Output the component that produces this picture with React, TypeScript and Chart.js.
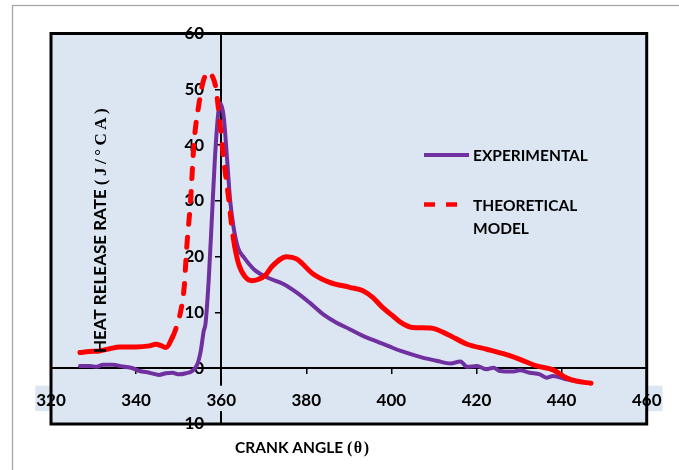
import React, { useEffect, useRef } from "react";
import { Chart, registerables } from "chart.js";

Chart.register(...registerables);

// ---- data ----
const expAngles = [
  326.8, 329.1, 330.7, 332.2, 334.5, 336.9, 339.2, 340.8, 343.1, 345.4, 347.0, 348.5, 350.1, 351.7,
  353.2, 354.4, 355.2, 355.9, 356.3, 357.1, 357.9, 358.5, 359.3, 359.8, 360.6, 361.4, 362.1, 362.9,
  364.0, 365.3, 367.6, 370.7, 374.6, 377.7, 380.7, 383.9, 387.0, 390.2, 393.3, 397.2, 399.5, 402.2,
  406.9, 410.8, 413.9, 416.2, 417.8, 420.1, 422.4, 424.0, 425.5, 428.7, 430.2, 432.5, 434.9, 436.4,
  438.0, 441.1, 442.4,
];
const expRates = [
  0.4, 0.4, 0.25, 0.6, 0.6, 0.3, 0.0, -0.5, -0.8, -1.2, -0.9, -0.8, -1.1, -0.9,
  -0.5, 0.7, 3.1, 6.7, 7.9, 16.3, 28.3, 37.3, 45.7, 47.5, 45.0, 37.3, 30.1, 25.3,
  21.5, 19.9, 17.8, 16.3, 15.1, 13.6, 11.8, 9.7, 8.2, 7.0, 5.8, 4.6, 3.9, 3.1,
  2.0, 1.3, 0.85, 1.2, 0.25, 0.4, -0.2, 0.1, -0.5, -0.6, -0.35, -0.8, -1.1, -1.7,
  -1.4, -2.0, -2.2,
];
const theoAngles = [
  326.8, 329.0, 331.4, 333.8, 336.1, 340.0, 343.1, 344.7, 346.0, 347.0, 348.5, 349.3, 350.5, 351.3,
  351.9, 352.8, 353.6, 354.8, 355.8, 357.1, 358.0, 358.7, 359.8, 360.6, 361.8, 362.5, 363.2, 364.1,
  365.7, 367.2, 368.6, 370.3, 372.0, 375.4, 377.7, 381.6, 385.5, 390.2, 393.3, 395.6, 397.9, 400.3,
  402.2, 404.9, 409.2, 413.1, 417.8, 422.4, 426.3, 430.2, 434.1, 438.0, 441.1, 443.4, 446.9,
];
const theoRates = [
  2.8, 3.0, 3.1, 3.5, 3.8, 3.8, 4.0, 4.3, 4.0, 3.7, 5.5, 7.0, 10.3, 14.5,
  21.7, 30.0, 40.3, 47.5, 51.5, 53.1, 52.2, 50.4, 43.3, 37.3, 30.1, 25.3, 21.7, 18.7,
  16.3, 15.7, 15.9, 16.6, 18.3, 20.0, 19.6, 16.9, 15.4, 14.5, 13.9, 12.7, 10.9, 9.4,
  8.2, 7.3, 7.2, 6.1, 4.3, 3.4, 2.6, 1.6, 0.4, -0.3, -1.7, -2.3, -2.7,
];
const xTicks = [320, 340, 360, 380, 400, 420, 440, 460];
const yTicks = [-10, 0, 10, 20, 30, 40, 50, 60];
const seriesNames = ["EXPERIMENTAL", "THEORETICAL MODEL"];
const legendRows = [["EXPERIMENTAL"], ["THEORETICAL", "MODEL"]];
const xTitleParts = ["CRANK ANGLE ", "(θ)"];
const yTitleParts = ["HEAT RELEASE RATE ", "(J/°CA)"];

// ---- styles ----
const PLOT_BG = "#dce6f2";
const PURPLE = "#7030a0";
const RED = "#ff0000";
const SANS = "Lato, 'Open Sans', sans-serif";
const SERIF = "'Liberation Serif', 'DejaVu Serif', serif";
const DASH_FROM = 348.5;
const DASH_TO = 363.5;

const decor = {
  id: "decor",
  beforeDraw(chart: any) {
    const { ctx, chartArea: a, width, height } = chart;
    ctx.save();
    ctx.fillStyle = "#ffffff";
    ctx.fillRect(0, 0, width, height);
    ctx.strokeStyle = "#a6a6a6";
    ctx.lineWidth = 1.3;
    ctx.strokeRect(12.5, 5.5, width + 20, height + 20);
    ctx.fillStyle = PLOT_BG;
    ctx.fillRect(a.left, a.top, a.right - a.left, a.bottom - a.top);
    ctx.restore();
  },
  afterDraw(chart: any) {
    const { ctx, chartArea: a } = chart;
    ctx.save();
    // plot border
    ctx.strokeStyle = "#000";
    ctx.lineWidth = 3;
    ctx.strokeRect(a.left, a.top, a.right - a.left, a.bottom - a.top);

    // legend
    ctx.lineCap = "butt";
    ctx.strokeStyle = PURPLE;
    ctx.lineWidth = 4;
    ctx.beginPath();
    ctx.moveTo(424, 155);
    ctx.lineTo(469, 155);
    ctx.stroke();
    ctx.strokeStyle = RED;
    ctx.lineWidth = 4.5;
    ctx.setLineDash([11, 11]);
    ctx.beginPath();
    ctx.moveTo(424, 204.5);
    ctx.lineTo(459, 204.5);
    ctx.stroke();
    ctx.setLineDash([]);
    ctx.fillStyle = "#000";
    ctx.font = `bold 15.5px ${SANS}`;
    ctx.textBaseline = "alphabetic";
    ctx.textAlign = "left";
    ctx.fillText(legendRows[0][0], 473, 160.7);
    ctx.fillText(legendRows[1][0], 473, 211);
    ctx.fillText(legendRows[1][1], 473, 234);

    // x title
    ctx.font = `bold 15.5px ${SANS}`;
    ctx.fillText(xTitleParts[0], 235, 452.5);
    const w1 = ctx.measureText(xTitleParts[0]).width;
    ctx.font = `bold 16px ${SERIF}`;
    (ctx as any).letterSpacing = "1.5px";
    ctx.fillText(xTitleParts[1], 235 + w1, 452.5);
    (ctx as any).letterSpacing = "0px";

    // y title
    ctx.translate(106, 353);
    ctx.rotate(-Math.PI / 2);
    ctx.font = `bold 17px ${SANS}`;
    ctx.fillText(yTitleParts[0], 0, 0);
    const w2 = ctx.measureText(yTitleParts[0]).width;
    ctx.font = `bold 17px ${SERIF}`;
    (ctx as any).letterSpacing = "3.5px";
    ctx.fillText(yTitleParts[1], w2, 0);
    (ctx as any).letterSpacing = "0px";
    ctx.restore();
  },
};

export default function App() {
  const ref = useRef<HTMLCanvasElement | null>(null);

  useEffect(() => {
    if (!ref.current) return;
    const tickFont = { family: SANS, size: 17, weight: "bold" as const };
    const chart = new Chart(ref.current, {
      type: "line",
      data: {
        datasets: [
          {
            label: seriesNames[0],
            data: expAngles.map((x, i) => ({ x, y: expRates[i] })),
            borderColor: PURPLE,
            borderWidth: 4,
            pointRadius: 0,
            cubicInterpolationMode: "monotone",
            borderCapStyle: "round",
            borderJoinStyle: "round",
            order: 2,
          },
          {
            label: seriesNames[1],
            data: theoAngles.map((x, i) => ({ x, y: theoRates[i] })),
            borderColor: RED,
            borderWidth: 5,
            pointRadius: 0,
            cubicInterpolationMode: "monotone",
            borderCapStyle: "round",
            borderJoinStyle: "round",
            order: 1,
            segment: {
              borderDash: (c: any) =>
                c.p0.parsed.x >= DASH_FROM && c.p1.parsed.x <= DASH_TO ? [10, 13] : [],
            },
          },
        ],
      },
      options: {
        responsive: false,
        animation: false,
        events: [],
        layout: { padding: { left: 51, top: 33.5, right: 28.2, bottom: 46 } },
        plugins: {
          legend: { display: false },
          tooltip: { enabled: false },
          title: { display: false },
        },
        scales: {
          x: {
            type: "linear",
            min: 320,
            max: 460,
            position: { y: 0 } as any,
            afterBuildTicks: (axis: any) => {
              axis.ticks = xTicks.map((value) => ({ value }));
            },
            grid: {
              display: true,
              drawOnChartArea: false,
              drawTicks: true,
              tickLength: 5,
              color: "#000",
              lineWidth: 1.5,
            },
            border: { display: true, color: "#000", width: 2 },
            ticks: {
              font: tickFont,
              color: "#000",
              padding: 17.5,
              autoSkip: false,
              maxRotation: 0,
              showLabelBackdrop: true,
              backdropColor: PLOT_BG,
              backdropPadding: { top: 5, bottom: 0, left: 1, right: 1 },
              z: 1,
            } as any,
          },
          y: {
            type: "linear",
            min: -10,
            max: 60,
            position: { x: 360 } as any,
            afterBuildTicks: (axis: any) => {
              axis.ticks = yTicks.map((value) => ({ value }));
            },
            grid: {
              display: true,
              drawOnChartArea: false,
              drawTicks: true,
              tickLength: 5,
              color: "#000",
              lineWidth: 1.5,
            },
            border: { display: true, color: "#000", width: 2 },
            ticks: { color: "rgba(0,0,0,0)", font: tickFont },
          },
          yLabels: {
            type: "linear",
            axis: "y",
            min: -10,
            max: 60,
            position: { x: 356 } as any,
            afterBuildTicks: (axis: any) => {
              axis.ticks = yTicks.map((value) => ({ value }));
            },
            grid: { display: false, drawTicks: false },
            border: { display: false },
            ticks: { font: tickFont, color: "#000", padding: 0 },
          } as any,
        },
      },
      plugins: [decor],
    });
    return () => chart.destroy();
  }, []);

  return (
    <div style={{ position: "fixed", left: 0, top: 0, width: 679, height: 470 }}>
      <canvas ref={ref} width={679} height={470} style={{ display: "block" }} />
    </div>
  );
}
